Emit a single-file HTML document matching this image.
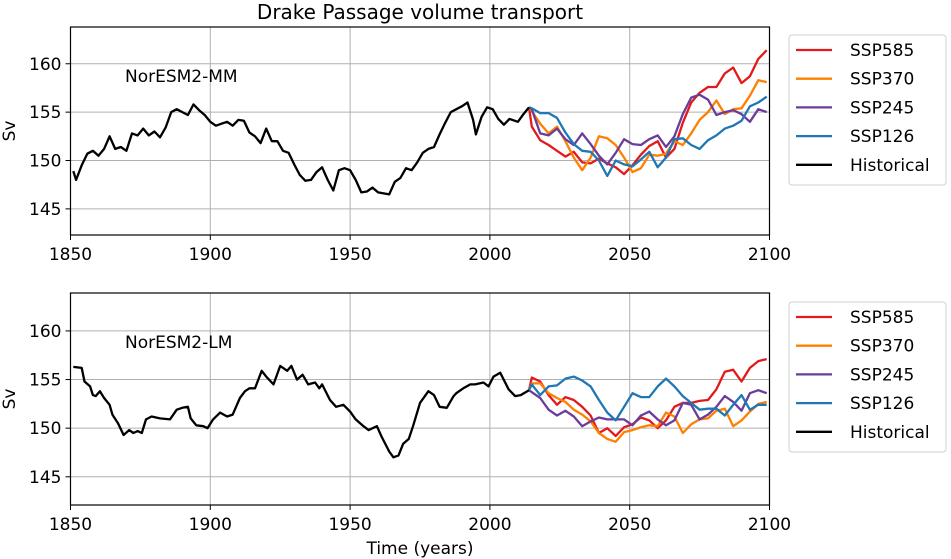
<!DOCTYPE html>
<html><head><meta charset="utf-8"><style>
html,body{margin:0;padding:0;background:#fff;width:951px;height:559px;overflow:hidden}
svg{display:block;font-family:"DejaVu Sans","Liberation Sans",sans-serif}
</style></head><body>
<svg id="chart" width="951" height="559" viewBox="0 0 951 559"></svg>
<script>
const xTicks=[1850,1900,1950,2000,2050,2100];
const yTicks=[145,150,155,160];
const seriesNames=["SSP585","SSP370","SSP245","SSP126","Historical"];
const seriesColors=["#e31a1c","#ff7f00","#6a3d9a","#1f78b4","#000000"];
const futYears=[2015,2018,2021,2024,2027,2030,2033,2036,2039,2042,2045,2048,2051,2054,2057,2060,2063,2066,2069,2072,2075,2078,2081,2084,2087,2090,2093,2096,2099];
// Top panel NorESM2-MM
const mmHistYears=[1851,1852,1854,1856,1858,1860,1862,1864,1866,1868,1870,1872,1874,1876,1878,1880,1882,1884,1886,1888,1890,1892,1894,1896,1898,1900,1902,1904,1906,1908,1910,1912,1914,1916,1918,1920,1922,1924,1926,1928,1930,1932,1934,1936,1938,1940,1942,1944,1946,1948,1950,1952,1954,1956,1958,1960,1962,1964,1966,1968,1970,1972,1974,1976,1978,1980,1982,1984,1986,1988,1990,1992,1994,1995,1997,1999,2001,2003,2005,2007,2010,2012,2014];
const mmHist=[148.9,148,149.5,150.7,151,150.5,151.2,152.5,151.2,151.4,151,152.8,152.6,153.3,152.6,153,152.4,153.4,155,155.3,155,154.7,155.8,155.2,154.7,154,153.6,153.8,154,153.6,154.2,154.1,152.9,152.5,151.8,153.3,152,152,151,150.8,149.6,148.5,147.9,148,148.8,149.3,148,146.9,149,149.2,149,148,146.7,146.8,147.2,146.7,146.6,146.5,147.8,148.2,149.2,149,149.8,150.8,151.2,151.4,152.7,153.9,155,155.3,155.6,156,154.2,152.7,154.5,155.5,155.3,154.3,153.7,154.3,154,154.8,155.5];
const mm585=[153.5,152.1,151.6,151,150.4,150.9,149.8,149.7,150.2,149.7,149.3,148.6,149.5,150.6,151.5,152,150.3,151.2,153.9,156,157,157.6,157.6,159,159.6,158,158.7,160.5,161.4];
const mm370=[155.1,153.8,152.8,153.5,152,150.3,149,150.3,152.5,152.3,151.6,150.3,148.8,149.2,150.6,150.5,150.7,152,151.6,152.8,154.2,155,156.2,154.8,155.3,155.4,156.7,158.3,158.1];
const mm245=[155.3,152.8,152.6,153.3,152.2,151.6,152.8,151.7,150.5,149.6,150.8,152.2,151.7,151.6,152.2,152.6,151.4,152.5,154.8,156.5,156.8,156.3,154.7,155,155.2,154.8,154,155.3,155];
const mm126=[155.4,154.9,154.9,154.4,152.9,151.7,151,150.9,150,148.4,150,149.6,149.4,150.1,150.9,149.3,150.3,152.2,152.3,151.6,151.2,152.1,152.6,153.3,153.6,154.1,155.6,156,156.6];
// Bottom panel NorESM2-LM
const lmHistYears=[1851,1854,1855,1857,1858,1859,1860.5,1862,1864,1865,1867,1869,1871,1872.5,1874,1875.5,1877,1879,1882,1885.6,1888,1890,1892,1893,1895,1897.5,1899,1901,1903.5,1906,1908,1910.6,1912.4,1914,1916,1918.4,1920,1922.6,1925,1927.5,1929,1931,1933,1935,1937.5,1939,1940,1942.8,1945,1947.6,1950,1952,1954.8,1956.6,1959.6,1961.3,1964,1965.5,1967.3,1969,1971,1972.6,1975,1978,1980,1982,1984.6,1987,1988,1990.5,1993,1994.7,1997.7,1999.5,2001.3,2003.7,2006.7,2009,2011,2014];
const lmHist=[156.3,156.2,154.8,154.3,153.4,153.3,153.8,153.1,152.4,151.4,150.5,149.3,149.8,149.5,149.7,149.5,150.9,151.2,151,150.9,151.9,152.1,152.2,151,150.3,150.2,150,150.9,151.6,151.2,151.4,153.1,153.8,154.1,154.1,155.9,155.3,154.5,156.4,155.9,156.4,155,155.5,154.5,154.7,154.1,154.5,152.9,152.2,152.4,151.7,150.9,150.2,149.8,150.2,149.1,147.6,147,147.2,148.4,148.9,150.3,152.6,153.8,153.4,152.2,152.1,153.3,153.6,154.1,154.5,154.5,154.7,154.3,155.3,155.7,154,153.3,153.4,153.9];
const lm585=[155.2,154.8,153.4,152.4,153.2,152.9,152.2,151.3,149.5,150,149.2,150.1,150.4,151.1,150.8,150,150.8,152.2,152.6,152.6,152.8,152.9,154,155.8,156,154.8,156.2,156.9,157.1];
const lm370=[154.6,154.6,153.6,153.1,152.7,151.9,151.4,150.7,149.5,148.9,148.6,149.6,149.8,150.1,150.3,150.2,151.6,151.2,149.5,150.4,150.9,151,151.8,152,150.2,150.8,151.7,152.5,152.7];
const lm245=[153.7,153.1,151.9,151.3,151.8,151.2,150.2,150.7,151.1,150.9,150.9,150.9,150.3,151.3,151.7,150.9,150.3,150.8,152.6,152.4,150.9,151.4,152.2,153.3,152.7,151.8,153.6,153.9,153.6];
const lm126=[154.5,153.4,154.3,154.4,155.1,155.3,154.9,154.3,152.9,151.6,150.8,152.2,153.6,153.2,153.2,154.3,155.1,154.3,153.3,152.6,151.9,152,152,151.3,152.4,153.4,151.9,152.4,152.4];

const svg=document.getElementById('chart');
const NS='http://www.w3.org/2000/svg';
function mk(tag,attrs,parent){const e=document.createElementNS(NS,tag);for(const k in attrs)e.setAttribute(k,attrs[k]);(parent||svg).appendChild(e);return e;}

const X0=70.5,X1=769.5,YMIN=1850,YMAX=2100;
function xs(y){return X0+(y-YMIN)/(YMAX-YMIN)*(X1-X0);}

function panel(top,bottom,vmin,vmax,label,hx,hy,futs,legTop,pname){
  const g=mk('g',{});
  
  
  const ys=v=>bottom-(v-vmin)/(vmax-vmin)*(bottom-top);
  xTicks.forEach(t=>{
    const l=mk('line',{x1:xs(t),x2:xs(t),y1:top,y2:bottom,stroke:'#b0b0b0','stroke-width':1},g);
    
    mk('line',{x1:xs(t),x2:xs(t),y1:bottom,y2:bottom+5,stroke:'#000','stroke-width':1},g);
    const tx=mk('text',{x:xs(t),y:bottom+25,'font-size':17,'text-anchor':'middle'},g);tx.textContent=t;
    
  });
  yTicks.forEach(t=>{
    const l=mk('line',{x1:X0,x2:X1,y1:ys(t),y2:ys(t),stroke:'#b0b0b0','stroke-width':1},g);
    
    mk('line',{x1:X0-5,x2:X0,y1:ys(t),y2:ys(t),stroke:'#000','stroke-width':1},g);
    const tx=mk('text',{x:X0-9,y:ys(t)+6,'font-size':17,'text-anchor':'end'},g);tx.textContent=t;
    
  });
  const yl=mk('text',{x:0,y:0,'font-size':17,'text-anchor':'middle',transform:`translate(15,${(top+bottom)/2}) rotate(-90)`},g);
  yl.textContent='Sv';
  const all=[[futYears,futs[0]],[futYears,futs[1]],[futYears,futs[2]],[futYears,futs[3]],[hx,hy]];
  all.forEach((s,i)=>{
    let yrs=s[0],vals=s[1];
    if(i<4){yrs=[hx[hx.length-1]].concat(yrs);vals=[hy[hy.length-1]].concat(vals);}
    const d=yrs.map((yr,j)=>(j?'L':'M')+xs(yr).toFixed(1)+','+ys(vals[j]).toFixed(1)).join('');
    const p=mk('path',{d:d,fill:'none',stroke:seriesColors[i],'stroke-width':2.3,'stroke-linejoin':'round'},g);
    
    
  });
  mk('rect',{x:X0,y:top,width:X1-X0,height:bottom-top,fill:'none',stroke:'#000','stroke-width':1.2},g);
  const ml=mk('text',{x:125,y:top+55,'font-size':17},g);ml.textContent=label;
  
  const lg=mk('g',{},g);
  
  mk('rect',{x:789,y:legTop,width:157,height:150,rx:3,fill:'#fff',stroke:'#d0d0d0','stroke-width':1},lg);
  seriesNames.forEach((n,i)=>{
    const ey=legTop+15+i*28.7;
    const e=mk('g',{},lg);
    
    mk('line',{x1:796,x2:832,y1:ey,y2:ey,stroke:seriesColors[i],'stroke-width':2.3},e);
    const t=mk('text',{x:850,y:ey+6,'font-size':17},e);t.textContent=n;
  });
}
panel(27,235,142.3,163.8,'NorESM2-MM',mmHistYears,mmHist,[mm585,mm370,mm245,mm126],35,'panel-noresm2-mm');
panel(293,505,142.1,163.9,'NorESM2-LM',lmHistYears,lmHist,[lm585,lm370,lm245,lm126],302,'panel-noresm2-lm');
const title=mk('text',{x:420,y:19,'font-size':20,'text-anchor':'middle'});
title.textContent='Drake Passage volume transport';

const xt=mk('text',{x:420,y:554,'font-size':17,'text-anchor':'middle'});
xt.textContent='Time (years)';

</script>
</body></html>
